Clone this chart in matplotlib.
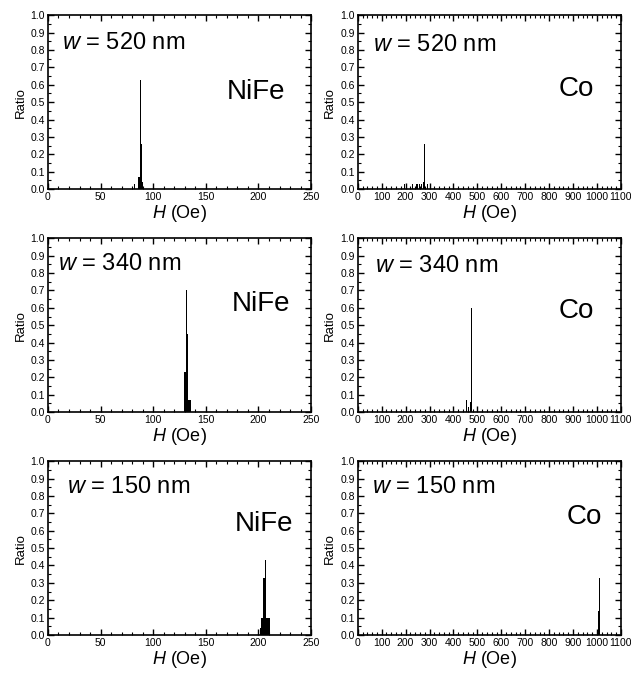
import matplotlib
matplotlib.use("Agg")
import matplotlib.pyplot as plt
from matplotlib.ticker import MultipleLocator

plt.rcParams['font.family'] = ['Liberation Sans', 'DejaVu Sans']
plt.rcParams['mathtext.fontset'] = 'custom'
plt.rcParams['mathtext.rm'] = 'Liberation Sans'
plt.rcParams['mathtext.it'] = 'Liberation Sans:italic'

# NiFe, field (Oe) and ratio
nife_520_h = [82, 86, 87, 88, 89, 90]
nife_520_r = [0.03, 0.07, 0.07, 0.63, 0.26, 0.04]
nife_340_h = [130, 131, 132, 133, 134, 135]
nife_340_r = [0.23, 0.23, 0.70, 0.45, 0.07, 0.07]
nife_150_h = [201.5, 203, 204, 205, 206, 207, 208, 209, 210]
nife_150_r = [0.04, 0.10, 0.10, 0.33, 0.33, 0.43, 0.10, 0.10, 0.10]

# Co, field (Oe) and ratio
co_520_h = [195, 230, 245, 250, 258, 267, 275, 280, 285, 290]
co_520_r = [0.03, 0.03, 0.03, 0.03, 0.03, 0.03, 0.04, 0.26, 0.04, 0.03]
co_340_h = [448, 455, 462, 470, 475, 478]
co_340_r = [0.05, 0.07, 0.03, 0.06, 0.60, 0.32]
co_150_h = [1000, 1005, 1010, 1013]
co_150_r = [0.10, 0.14, 0.33, 0.17]

widths = ["520", "340", "150"]

fig = plt.figure(figsize=(6.31, 6.79), dpi=100)

bottoms = [0.7216, 0.393, 0.0648]
panels = [
    (nife_520_h, nife_520_r, co_520_h, co_520_r),
    (nife_340_h, nife_340_r, co_340_h, co_340_r),
    (nife_150_h, nife_150_r, co_150_h, co_150_r),
]
w_pos_l = [(0.053, 0.84), (0.04, 0.85), (0.072, 0.85)]
w_pos_r = [(0.057, 0.83), (0.065, 0.84), (0.053, 0.85)]
mat_pos_l = [(0.79, 0.56), (0.81, 0.62), (0.82, 0.64)]
mat_pos_r = [(0.83, 0.575), (0.83, 0.58), (0.86, 0.68)]


def style_axis(ax, xmax, major, minor):
    ax.set_xlim(0, xmax)
    ax.set_ylim(0, 1.0)
    ax.xaxis.set_major_locator(MultipleLocator(major))
    ax.xaxis.set_minor_locator(MultipleLocator(minor))
    ax.yaxis.set_major_locator(MultipleLocator(0.1))
    ax.yaxis.set_minor_locator(MultipleLocator(0.05))
    ax.yaxis.set_major_formatter(plt.FuncFormatter(lambda v, p: "%.1f" % v))
    ax.tick_params(which='both', direction='in', top=True, right=True,
                   labelsize=7.5, pad=2)
    ax.tick_params(which='major', length=4, width=1.0)
    ax.tick_params(which='minor', length=2, width=0.8)
    for s in ax.spines.values():
        s.set_linewidth(1.2)
    ax.set_xlabel("$H$ (Oe)", fontsize=13, labelpad=1)
    ax.set_ylabel("Ratio", fontsize=9.5, labelpad=3)


for i, (nh, nr, ch, cr) in enumerate(panels):
    axl = fig.add_axes([0.076, bottoms[i], 0.417, 0.256])
    axl.bar(nh, nr, width=1.0, color='black', linewidth=0)
    style_axis(axl, 250, 50, 10)
    axl.text(*w_pos_l[i], "$w$ = %s nm" % widths[i], transform=axl.transAxes,
             fontsize=17, ha='left', va='center')
    axl.text(*mat_pos_l[i], "NiFe", transform=axl.transAxes,
             fontsize=20, ha='center', va='center')

    axr = fig.add_axes([0.567, bottoms[i], 0.417, 0.256])
    axr.bar(ch, cr, width=3, color='black', linewidth=0)
    style_axis(axr, 1100, 100, 20)
    axr.text(*w_pos_r[i], "$w$ = %s nm" % widths[i], transform=axr.transAxes,
             fontsize=17, ha='left', va='center')
    axr.text(*mat_pos_r[i], "Co", transform=axr.transAxes,
             fontsize=20, ha='center', va='center')

fig.savefig("out.png", dpi=100)
